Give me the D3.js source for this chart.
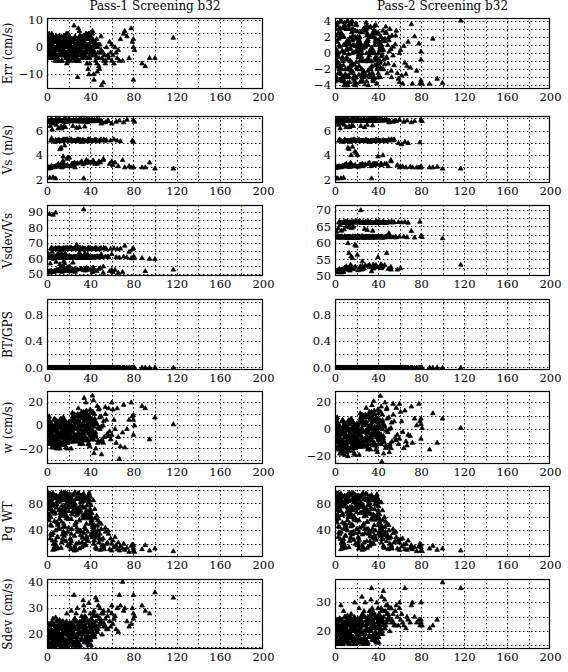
<!DOCTYPE html>
<html><head><meta charset="utf-8">
<script src="https://cdn.jsdelivr.net/npm/d3@7"></script>
<style>body{margin:0;background:#fff}svg text{font-family:"DejaVu Serif",serif;fill:#000}</style>
</head><body><svg id="c" width="568" height="672"></svg>
<script>
// ---------- DATA ----------
const titles = ["Pass-1 Screening b32", "Pass-2 Screening b32"];
const yLabels = ["Err (cm/s)", "Vs (m/s)", "Vsdev/Vs", "BT/GPS", "w (cm/s)", "Pg WT", "Sdev (cm/s)"];
const xTicks = [0, 40, 80, 120, 160, 200];

// shared x values (same ensembles in every panel)
const xs = [
 1,4,8,12,16,19,2,6,10,14,18,3,7,11,15,20,5,9,13,17,
 0.5,3.5,6.5,9.5,12.5,15.5,18.5,1.5,4.5,7.5,10.5,13.5,16.5,19.5,2.5,5.5,8.5,11.5,14.5,17.5,
 1,3,5,7,9,11,13,15,17,19,2,4,6,8,10,12,14,16,18,20,
 0.8,2.8,4.8,6.8,8.8,10.8,12.8,14.8,16.8,18.8,1.6,3.6,5.6,7.6,9.6,11.6,13.6,15.6,17.6,19.6,
 0.3,2.3,4.3,6.3,8.3,10.3,12.3,14.3,16.3,18.3,
 21,25,29,33,37,23,27,31,35,39,22,26,30,34,38,24,28,32,36,40,
 20.5,22.5,24.5,26.5,28.5,30.5,32.5,34.5,36.5,38.5,21.5,23.5,25.5,27.5,29.5,31.5,33.5,35.5,37.5,39.5,
 21,23,25,27,29,31,33,35,37,39,22,24,26,28,30,32,34,36,38,40,
 20.8,23.8,26.8,29.8,32.8,35.8,38.8,21.6,24.6,27.6,30.6,33.6,36.6,39.6,22.4,25.4,28.4,31.4,34.4,37.4,
 40.5,41,42,43,44,45,46,47,48,49,50,51,52,53,54,55,
 41.5,42.5,43.5,44.5,45.5,46.5,47.5,48.5,49.5,50.5,52.5,
 40.2,41.2,42.2,43.2,44.2,45.2,46.2,47.2,48.2,50.2,52.2,54.2,56,
 57,58,59,60,60,61,62,63,64,65,66,67,68,70,71,72,74,76,78,79,80,80,80,81,88,91,95,100,117,56.5,
 0.2,1.3,2.4,3.5,4.6,5.7,6.8,7.9,9.0,10.1,11.2,12.3,13.4,14.5,15.6,16.7,17.8,18.9,20.0,21.1,
 22.2,23.3,24.4,25.5,26.6,27.7,28.8,29.9,31.0,32.1,33.2,34.3,35.4,36.5,37.6,38.7,39.8,40.9,42.0,43.1,
 0.7,1.9,3.1,4.3,5.5,6.7,7.9,9.1,10.3,11.5,12.7,13.9,15.1,16.3,17.5,18.7,19.9,21.1,22.3,23.5,
 24.7,25.9,27.1,28.3,29.5,30.7,31.9,33.1,34.3,35.5,36.7,37.9,39.1,40.3,41.5,42.7,43.9,45.1,0.9,2.1,
 3.3,4.5,5.7,6.9,8.1,9.3,10.5,11.7,12.9,14.1,15.3,16.5,17.7,18.9,20.1,21.3,22.5,23.7,24.9,26.1,
 27.3,28.5,29.7,30.9,32.1,33.3,34.5,35.7,36.9,38.1,39.3,40.5,41.7,42.9,44.1,1.4,5.2,9.6,13.8,17.2
];

// Pass-1
const err1 = [
 2,-3,4,-1,1,-4,-2,3,0,-5,5,-3,2,-1,1,-4,3,0,-2,4,
 -1,3,-4,2,0,-3,5,-2,4,-5,1,-1,3,-3,2,0,-4,4,-2,1,
 0,-2,2,-4,4,-1,1,-3,3,-5,5,0,-2,2,-4,1,-1,3,-3,0,
 3,-1,1,-3,-5,4,-2,0,2,-4,-3,2,4,-1,0,3,-5,1,-2,5,
 -2,1,-4,3,0,-1,2,-3,4,-6,
 1,-2,3,-4,0,2,-1,4,-3,5,-5,1,-2,3,0,-4,2,-1,4,-3,
 0,3,-3,1,-1,4,-4,2,-2,5,-1,2,-5,0,3,-3,1,-2,4,-4,
 -3,2,8,-2,7,0,-4,3,-6,1,2,-1,4,-5,6,-3,0,5,-8,-2,
 4,-2,1,-5,3,-1,-10,0,2,-4,1,-3,5,-6,-1,3,-11,2,0,-4,
 2,-3,5,-1,0,-5,3,-2,-7,1,4,-4,-2,-3,-6,0,
 -1,3,-12,2,-4,-9,1,-8,-2,-14,-5,
 4,-2,6,-10,1,-3,-6,0,-4,-1,-13,-5,-3,
 -4,2,-2,-5,1,-3,-6,0,-2,-4,-1,-5,3,-5,5,6,4,-4,7,2,-12,3,0,-1,-6,-7,-4,-4,3.5,-3,
 -3,1,4,-1,-4,2,0,-2,3,-5,1,-3,4,0,-1,2,-4,3,-2,1,
 2,-4,0,3,-2,-5,1,4,-1,-3,2,0,-4,3,-1,1,-3,2,0,-2,
 4,-2,0,-4,2,-1,3,-3,1,-5,0,2,-2,4,-4,1,-1,3,-3,0,
 -1,3,-3,1,-5,2,0,4,-2,-4,1,-1,3,-3,0,2,-2,1,-4,3,
 -1,5,-3,0,2,-4,1,-2,3,-1,4,-3,0,2,-5,1,-2,3,-4,0,
 1,-3,2,-1,4,-2,0,3,-4,1,-1,2,-3,0,1,-2,2,-1,0,-3
];
const vs1 = [
 6.8,6.85,5.2,6.9,6.75,5.25,3.0,6.8,3.1,5.15,6.85,6.4,3.05,6.8,5.3,6.9,6.8,3.15,4.6,6.3,
 3.0,6.9,6.75,5.2,3.2,6.85,3.7,2.9,6.8,5.1,3.3,6.2,6.9,6.8,2.15,6.75,6.5,5.25,3.4,6.85,
 6.85,2.95,6.8,3.05,5.2,6.9,6.35,3.9,6.8,5.3,6.75,3.1,6.6,2.1,6.8,4.5,3.0,6.85,6.8,5.2,
 2.95,6.8,6.1,6.85,3.1,5.25,6.8,3.55,6.9,6.75,6.7,3.0,2.2,6.8,5.15,6.85,3.2,6.4,5.3,3.8,
 6.8,3.0,5.4,6.85,3.1,6.2,5.2,6.8,4.8,6.9,
 6.8,5.2,6.85,5.25,6.8,3.3,6.9,5.15,6.75,3.4,5.3,6.8,6.3,6.85,5.2,6.4,6.8,3.5,6.9,6.8,
 5.2,6.85,3.2,6.8,5.25,6.9,5.1,6.8,3.6,6.85,3.1,5.2,6.8,6.25,5.3,6.8,6.85,5.2,6.7,5.25,
 6.9,6.8,5.2,3.3,6.85,5.25,6.8,6.35,3.45,6.9,6.8,5.2,3.0,6.8,5.15,6.9,2.1,6.8,5.3,3.4,
 3.8,6.8,5.2,6.9,6.8,3.35,5.25,6.85,6.8,5.2,6.75,3.25,6.9,5.2,6.8,3.4,5.3,6.85,6.8,5.15,
 6.8,5.2,6.85,3.4,6.8,5.25,6.9,5.2,3.5,6.8,5.3,6.75,3.6,5.2,6.7,5.25,
 6.85,5.2,6.8,3.3,5.25,6.9,6.8,5.2,3.4,6.8,5.3,
 5.2,6.8,3.5,6.85,5.2,6.8,3.3,5.15,6.9,6.6,3.7,5.2,6.8,
 6.8,3.3,5.2,3.5,6.6,3.2,5.3,3.4,6.75,5.2,3.1,6.85,5.15,3.6,6.7,3.0,6.9,3.1,3.0,5.2,6.9,5.1,3.0,6.75,3.0,3.0,3.4,2.9,2.9,6.85,
 6.8,3.0,6.85,5.2,6.9,3.05,6.8,5.25,6.75,3.1,6.85,5.2,6.8,3.15,6.9,5.3,6.8,3.2,6.85,5.2,
 6.8,5.2,6.9,3.3,6.85,5.25,6.8,6.9,5.15,3.4,6.8,5.2,6.85,3.5,6.9,5.3,6.8,5.2,6.85,3.5,
 2.95,6.85,3.0,6.8,5.2,3.05,6.9,6.8,5.25,3.1,6.85,6.8,5.2,3.2,6.8,5.3,6.9,6.85,5.2,3.3,
 6.8,5.2,6.9,3.35,6.85,5.25,6.8,5.2,6.9,3.45,6.8,5.15,6.85,6.8,5.2,3.55,6.9,5.25,3.0,6.8,
 6.85,5.2,3.0,6.8,3.1,6.9,5.2,6.8,3.05,6.85,5.25,6.8,3.15,5.2,6.9,6.8,5.3,3.25,6.85,5.2,
 6.8,5.2,6.85,3.4,6.9,5.25,6.8,5.2,6.85,3.5,6.8,5.2,6.9,6.8,5.25,3.0,3.05,6.8,5.2,3.1
];
const vsdev1 = [
 61,60.5,66.5,61.5,60.8,66.8,52,61,52.5,66.2,60.6,57,51.8,61.2,67,61.4,60.9,52.8,55,63.5,
 51.5,61.3,60.7,66.6,52.6,61.1,54,51.2,60.9,66.3,53,64,61.5,60.6,89,61,58,66.9,53.4,61.2,
 61.1,51.4,60.8,52.2,66.4,61.6,63.2,55.5,61,67.1,60.7,52.4,60,90,61.3,56.5,51.6,60.9,61.4,66.7,
 51.3,61,64.5,60.6,52.1,66.8,61.2,53.6,61.5,60.8,63,51.9,88.5,61.1,66.2,60.7,52.9,58.5,67,54.5,
 61,51.7,67.3,61.2,52.3,63.8,66.5,60.8,57,61.4,
 61,66.5,60.7,66.8,61.2,52.5,61.4,66.2,60.8,53,67,61.1,64,60.6,66.6,57.5,61.3,53.5,61.5,60.9,
 66.4,61.1,52.2,60.8,66.9,61.5,66.1,61,54,60.6,51.8,66.5,61.3,69,67,60.9,61.2,66.7,63,66.3,
 61.4,60.8,66.6,52.8,61.1,66.9,61,63.5,53.2,61.5,60.7,66.4,51.6,61.2,66.2,61.6,92,60.9,67.1,53,
 55,61,66.5,61.4,60.8,52.4,66.8,61.1,60.9,66.6,61.3,52.6,61.5,66.3,61,53.3,67,60.7,61.2,66.2,
 61,66.5,60.7,53,61.2,66.8,61.4,66.3,53.5,60.9,67,61.1,51,66.6,61.5,66.2,
 60.8,66.4,61.3,52.4,66.9,61.6,61,66.5,54,61.2,67.2,
 66.6,61.1,51.5,60.7,66.3,61.3,52,66.1,61.4,63,55,66.8,61.5,
 61,52,66.5,53,63,51.5,66.8,52.8,61.2,66.4,51,60.8,66.6,51.5,61.4,68.5,61,64.5,60.5,66.3,61.2,66.8,60.4,61,60.5,52,60,59.8,53,61.5,
 61,51.5,60.7,66.6,61.4,51.8,61,66.9,60.8,52.2,61.3,66.4,60.9,52.5,61.5,67,61.1,52.8,60.6,66.5,
 61.2,66.7,61.5,53,60.8,66.9,61,61.4,66.2,53.5,60.9,66.6,61.2,54,61.5,67.1,60.7,66.4,61.3,54,
 51.2,60.8,51.6,61.1,66.5,51.9,61.5,60.9,66.8,52.3,61.2,60.7,66.4,52.7,61,67,61.6,60.8,66.6,53,
 61.1,66.5,61.4,53.2,60.8,66.9,61.2,66.6,61.5,53.6,60.9,66.2,61.3,61,66.7,54.2,61.5,66.9,51.4,61,
 60.8,66.5,51.5,61.2,52,61.5,66.6,60.9,51.8,61.3,66.8,61,52.4,66.4,61.5,60.7,67,52.9,61.2,66.5,
 61,66.6,60.8,53.3,61.5,66.9,61.1,66.4,60.9,53.7,61.3,66.5,61.5,60.8,66.8,51.3,51.7,61,66.5,52.1
];
const bt1 = [
 0,0,0,0,0,0,0,0,0,0,0,0,0,0,0,0,0,0,0,0, 0,0,0,0,0,0,0,0,0,0,0,0,0,0,0,0,0,0,0,0,
 0,0,0,0,0,0,0,0,0,0,0,0,0,0,0,0,0,0,0,0, 0,0,0,0,0,0,0,0,0,0,0,0,0,0,0,0,0,0,0,0,
 0,0,0,0,0,0,0,0,0,0,
 0,0,0,0,0,0,0,0,0,0,0,0,0,0,0,0,0,0,0,0, 0,0,0,0,0,0,0,0,0,0,0,0,0,0,0,0,0,0,0,0,
 0,0,0,0,0,0,0,0,0,0,0,0,0,0,0,0,0,0,0,0, 0,0,0,0,0,0,0,0,0,0,0,0,0,0,0,0,0,0,0,0,
 0,0,0,0,0,0,0,0,0,0,0,0,0,0,0,0, 0,0,0,0,0,0,0,0,0,0,0, 0,0,0,0,0,0,0,0,0,0,0,0,0,
 0,0,0,0,0,0,0,0,0,0,0,0,0,0,0,0,0,0,0,0,0,0,0,0,0,0,0,0,0,0,
 0,0,0,0,0,0,0,0,0,0,0,0,0,0,0,0,0,0,0,0, 0,0,0,0,0,0,0,0,0,0,0,0,0,0,0,0,0,0,0,0,
 0,0,0,0,0,0,0,0,0,0,0,0,0,0,0,0,0,0,0,0, 0,0,0,0,0,0,0,0,0,0,0,0,0,0,0,0,0,0,0,0,
 0,0,0,0,0,0,0,0,0,0,0,0,0,0,0,0,0,0,0,0, 0,0,0,0,0,0,0,0,0,0,0,0,0,0,0,0,0,0,0,0
];
const w1 = [
 -5,2,-12,5,-8,-15,0,-3,-18,3,-10,-1,6,-7,-14,1,-4,-20,-9,4,
 -2,-11,5,-16,-6,0,-13,7,-19,-3,2,-8,-15,-1,4,-10,-17,1,-5,-12,
 3,-9,-4,-14,0,-18,6,-7,-2,-11,8,-16,-5,2,-13,-20,-1,5,-8,-3,
 -6,1,-15,-10,4,-2,-17,-7,0,-12,7,-4,-19,-9,3,-14,-1,-6,2,-11,
 -8,4,-13,-3,-18,0,-7,5,-10,-15,
 0,-8,5,-12,10,-3,2,-15,8,-6,-10,3,-1,12,-5,7,-13,1,-4,14,
 -7,4,-11,9,-2,-16,6,-9,13,0,-4,11,-14,3,-6,8,-1,-12,5,-18,
 2,-5,10,-9,15,-3,7,-13,1,-7,-11,4,-2,9,-8,12,-4,20,-16,6,
 -3,8,-10,3,-6,11,-1,-14,5,-8,-12,2,-5,7,-20,-3,10,-9,24,0,
 -12,5,-5,22,10,-8,2,-15,14,-3,8,-12,0,-10,16,5,
 -6,12,-24,3,-10,17,-2,7,-14,-25,4,
 11,-4,26,-9,6,-20,1,-13,15,-1,-15,10,-7,
 15,-5,-12,20,-8,14,5,-3,-15,15,-10,-29,-18,-6,18,-19,-3,5,20,8,-8,5,9,0,17,15,-12,7,1,-9,
 -10,-3,-16,2,-7,-12,-1,-19,4,-6,-14,0,-9,-4,6,-17,-2,-11,3,-8,
 -5,5,-12,-1,8,-9,2,-14,-3,10,-7,1,-11,6,-4,-16,4,-8,0,-12,
 -6,-14,1,-9,-18,-3,5,-11,-7,0,-15,-2,7,-13,-5,-20,-8,3,-10,-1,
 -6,6,-13,-2,9,-9,1,-16,4,-5,-11,7,-3,-8,2,-12,5,-6,-15,-4,
 -8,-13,-2,-17,1,-6,-10,3,-15,-4,-9,-1,-19,-7,2,-12,-3,-14,0,-9,
 3,-10,-4,8,-12,0,-7,5,-2,-13,1,-9,6,-5,-1,-8,-16,-4,-11,-7
];
const pg1 = [
 85,72,40,93,65,18,55,88,30,77,62,95,12,70,45,82,25,90,68,35,
 92,60,78,15,87,50,74,96,33,66,84,22,71,58,89,11,80,42,94,63,
 76,28,91,67,52,83,14,73,97,38,64,86,20,79,48,93,69,32,88,57,
 95,61,81,16,74,44,90,26,68,85,59,77,36,92,13,71,53,87,24,82,
 66,94,47,78,19,89,62,34,75,91,
 75,15,88,30,62,92,20,70,45,85,12,80,55,95,25,68,38,90,18,72,
 94,35,78,14,65,87,22,60,50,82,28,93,10,74,40,86,17,66,58,91,
 83,42,69,11,89,33,76,19,64,96,27,81,48,71,13,92,36,61,24,79,
 16,84,52,73,29,90,63,21,77,44,67,93,31,85,57,12,70,39,88,26,
 78,55,30,85,48,15,62,40,22,35,50,18,28,12,44,20,
 66,38,25,58,14,47,32,52,11,26,17,
 90,60,45,20,72,35,12,55,28,42,15,38,22,
 35,12,28,20,10,25,15,30,18,12,22,10,16,13,20,11,14,8,17,19,10,14,18,8,12,18,10,13,9,40,
 62,80,95,35,70,88,20,76,92,50,84,66,97,28,73,90,58,81,44,86,
 93,64,79,32,87,69,96,55,82,15,90,74,60,86,38,94,67,52,30,45,
 74,90,48,83,96,65,25,79,88,57,93,70,38,85,61,95,76,17,89,68,
 81,97,63,88,22,76,92,58,84,42,70,89,65,33,55,48,25,38,58,78,
 86,67,93,54,79,30,90,72,85,62,96,46,80,91,69,87,24,75,94,50,
 88,71,95,40,82,63,90,27,77,86,60,50,35,42,30,72,90,84,66,95
];
const sdev1 = [
 20,17,23,18,21,16,24,19,22,15.5,25,18.5,20.5,17.5,23.5,19.5,21.5,16.5,24.5,22.5,
 18,22,16,25,19,21,17,23,20,15.5,24,18.5,22.5,16.5,20.5,26,19.5,23.5,17.5,21.5,
 21,16,24,19,17,22,20,25,18,23,15.5,21.5,19.5,26.5,17.5,22.5,20.5,16.5,24.5,18.5,
 23,19,17,21,25,16,22,18,20,24,19.5,15.5,23.5,17.5,21.5,25.5,18.5,22.5,16.5,20.5,
 17,22,19,24,16,21,18,23,20,28,
 19,23,17,25,21,16,28,20,24,18,22,26,15.5,31,19.5,23.5,17.5,27,21.5,24.5,
 20,17,24,19,22,25,18,29,21,16,23,19.5,26,17.5,22.5,20.5,33,18.5,24.5,21.5,
 22,18,35,20,16,24,21,27,17,23,19,25,15.5,30,20.5,18.5,22.5,26.5,16.5,28,
 18,21,25,16,23,19,32,20,22,17,24,26,18.5,21.5,29,16.5,23.5,20.5,25.5,19.5,
 22,26,19,28,24,34,21,27,23,30,25,20,28,24,26,22,
 20,25,29,23,27,21,31,24,26,28,23,
 18,24,21,27,19,25,33,22,26,24,29,23,27,
 29,25,23,28,31,24,26,27,22,30,21,35,31,40,29,30,25,23,24,30,35,26,28,27,31,29,28,36,34,22,
 22,16,19,24,17,21,15.5,23,18,20,25,16.5,22.5,19,17.5,24,21,15.5,23.5,18.5,
 20,24,17,22,19,25,16,21,23,18,20.5,26,17,22,24.5,19,21,16,23,20,
 17,23,20,15.5,24,18,22,16.5,21,25,19,17.5,23,20.5,15.5,22,18.5,24.5,16,21.5,
 23,17,25,19,21,16,24,20,22,18,26,17.5,21.5,23.5,19,24,20,22,18,15.5,
 21,24.5,16,19,23,17,22,20,15.5,25,18,21,23.5,16.5,20,24,17.5,22,19.5,25,
 18,22,16,24,20,26,17,23,19,21,25,18,22,20,24,16.5,21,19,23,17
];

// Pass-2
const err2 = [
 3,-2,1,-4,0,2,-1,4,-3,0.5,-3.5,2.5,-0.5,1.5,-2.5,3.5,-1.5,0,-3,2,
 -1,3,-3,1,-2,4,-4,0,2,-1,3,-2,1,-3,0,2,-4,4,-1,1,
 0.5,-2.5,2.5,-3.5,3.5,-0.5,1.5,-1.5,3,-3,0,1,-2,2,-4,4,-1,3,-2.8,0.2,
 2.2,-1.2,0.8,-3.2,3.8,-0.8,1.2,-2.2,2.8,-3.8,-0.2,1.8,-1.8,3.2,-2.6,0.6,-3.6,2.6,-1.4,3.6,
 -0.6,1.4,-2.4,2.4,-3.4,0.4,3.4,-1.6,1.6,-3.9,
 1,-2,3,-3,0,2,-1,-4,-2.5,1.5,0,-3.5,2.5,-1,3.5,-0.5,1,-2,2,-3,
 0.5,2,-2,3,-1,1.5,-3,0,2.5,-1.5,-0.5,1,-2.5,3,0,-1,2,-3.5,1.5,-2,
 2,-1,0,-3,3.8,1,-2,0.5,-1.5,2.5,-0.2,1.2,-2.8,3.2,-0.8,0.2,2.2,-3.2,1.8,-1.2,
 -2,1,3,-1,0,2.4,-3.8,1.4,-0.4,2.8,-2.2,0.6,3.4,-1.8,1.6,-3,0.8,2,-2.6,-0.6,
 0,1,-1,2,0.5,-2,1.5,2.5,-0.5,1,2,3,0.5,2.2,-0.3,-1.5,
 1.2,-1.8,0.3,2.8,-0.8,1.8,2.6,-2.5,-1.3,0.2,-3,
 -2.5,-1,-3,1,-2,0.4,-1.4,3.3,-0.6,1.6,-2.2,0.8,1.1,
 2.8,-2.5,-3.2,0,-3.6,0.4,-2.8,-3.8,0.9,-1.2,-2.6,-1.6,1.4,-1.8,3.6,-3.8,2.1,-2.2,1.2,-3.8,-0.8,-3.4,0.2,-3.8,-3.8,1.8,-3.2,-3.7,4.05,2.2,
 -3.5,1.5,3.8,-0.5,-2.5,2.5,0.2,-1.5,3.2,-3.8,1.2,-2.8,3.6,0.6,-1.2,2.2,-3.2,2.8,-1.8,0.8,
 1.8,-3.6,0.4,2.6,-2.2,-3.9,1.4,3.4,-0.6,-2.6,2.1,0.3,-3.3,2.9,-0.9,1.6,-1.9,2.4,0.7,-0.4,
 3.7,-1.7,0.1,-3.4,2.3,-0.7,3.1,-2.9,1.3,-3.7,-0.1,1.9,-2.1,3.9,-3.1,0.9,-1.1,2.7,-2.7,0.5,
 -0.8,2.9,-2.4,1.1,-3.5,1.7,-0.3,3.3,-1.6,-3.0,1.0,-0.5,2.5,-1.4,0.4,2.0,-0.2,1.5,-3.3,3.5,
 -1.3,3.9,-2.6,0.3,2.1,-3.6,1.2,-1.9,3.0,-0.9,3.6,-2.3,0.1,1.8,-3.8,1.0,-1.6,2.6,-3.4,0.6,
 0.8,-2.8,2.2,-0.7,3.2,-1.8,0.2,2.7,-3.1,1.3,-0.6,1.6,-1.2,0.9,1.7,-3.0,3.1,-2.0,1.1,-1.4
];
const vs2 = [
 6.85,6.9,5.2,6.95,6.8,5.2,3.0,6.85,3.1,5.1,6.9,6.5,3.1,6.85,5.25,6.9,6.85,3.2,4.5,6.4,
 3.0,6.95,6.8,5.2,3.2,6.9,4.3,2.1,6.85,5.1,3.3,6.3,6.9,6.85,2.1,6.8,6.5,5.2,3.4,6.9,
 6.9,3.0,6.85,3.1,5.3,6.95,6.4,4.0,6.85,5.2,6.8,3.1,6.6,2.15,6.85,4.6,3.05,6.9,6.85,5.2,
 3.0,6.85,6.2,6.9,3.1,5.2,6.85,3.3,6.95,6.8,6.7,3.05,2.1,6.85,5.2,6.9,3.2,6.45,5.3,4.2,
 6.85,3.05,5.3,6.9,3.1,6.3,5.2,6.85,4.7,6.9,
 6.85,5.2,6.9,5.2,6.85,3.2,6.9,5.15,6.8,3.3,5.25,6.85,6.5,6.9,5.2,6.4,6.85,3.4,6.9,6.85,
 5.2,6.9,3.1,6.85,5.2,6.9,5.1,6.85,3.2,6.9,3.05,5.2,6.85,6.3,5.25,6.85,6.9,5.2,6.8,5.2,
 6.95,6.85,5.2,3.2,6.9,5.2,6.85,6.45,3.3,6.9,6.85,5.2,3.1,6.85,5.15,6.9,2.1,6.85,5.3,3.9,
 4.0,6.85,5.2,6.9,6.85,3.2,5.25,6.9,6.85,5.2,6.8,3.1,6.95,5.2,6.85,3.3,5.25,6.9,6.85,5.2,
 6.85,5.2,6.9,3.2,6.85,5.25,6.9,5.2,3.3,6.85,5.3,6.8,3.6,5.2,6.75,5.3,
 6.9,5.2,6.85,4.0,5.2,6.9,6.85,5.2,3.1,6.85,5.3,
 5.2,6.85,3.2,6.9,5.2,6.85,3.3,5.15,6.9,6.7,3.5,5.25,6.85,
 6.8,3.2,5.0,3.0,6.9,3.1,4.9,3.05,6.75,5.1,3.0,6.85,5.0,3.05,6.7,3.0,6.8,3.0,3.0,5.05,6.9,3.1,3.0,6.8,3.0,3.0,3.05,2.9,2.9,6.85,
 6.85,3.0,6.9,5.2,6.95,3.05,6.85,5.2,6.8,3.1,6.9,5.2,6.85,3.1,6.95,5.25,6.85,3.2,6.9,5.2,
 6.85,5.2,6.95,3.2,6.9,5.2,6.85,6.95,5.15,3.3,6.85,5.2,6.9,3.2,6.95,5.25,6.85,5.2,6.9,3.3,
 3.0,6.9,3.05,6.85,5.2,3.1,6.95,6.85,5.2,3.1,6.9,6.85,5.2,3.15,6.85,5.25,6.95,6.9,5.2,3.2,
 6.85,5.2,6.95,3.25,6.9,5.2,6.85,5.2,6.95,3.3,6.85,5.15,6.9,6.85,5.2,3.3,6.95,5.2,3.0,6.85,
 6.9,5.2,3.0,6.85,3.1,6.95,5.2,6.85,3.05,6.9,5.2,6.85,3.1,5.2,6.95,6.85,5.25,3.2,6.9,5.2,
 6.85,5.2,6.9,3.3,6.95,5.2,6.85,5.2,6.9,3.3,6.85,5.2,6.95,6.85,5.2,3.0,3.05,6.85,5.2,3.1
];
const vsdev2 = [
 61.8,62,66.3,61.6,61.9,66.5,51.8,62.1,52.3,66.2,61.7,64.5,52,61.9,66.4,62,61.8,52.6,57,65,
 51.6,61.7,62,66.3,52.5,61.8,59.5,51.2,61.9,66.1,53,64.8,62.1,61.7,51.4,61.9,64.2,66.5,53.5,61.8,
 61.9,51.5,62,52.1,66.4,61.6,65.2,56,61.8,66.3,62.1,52.2,63.8,51.3,61.9,60,51.7,61.7,62,66.5,
 51.4,61.8,65.5,62,52.2,66.2,61.9,52.8,61.7,62.1,63.5,51.8,51.1,61.8,66.4,62,52.4,64.6,66.3,59.2,
 61.9,51.6,66.4,62,52.1,65,66.3,61.8,55.5,61.7,
 61.8,66.3,62,66.5,61.9,52.4,61.7,66.2,62.1,52.8,66.4,61.8,64,62,66.3,70,61.9,53.2,61.7,62,
 66.4,61.9,52,61.8,66.3,62,66.1,61.7,52.6,61.9,51.8,66.5,62.1,64.3,66.4,61.8,61.9,66.2,62,66.3,
 61.7,61.9,66.3,52.5,62,66.4,61.8,63.8,53,61.9,62.1,66.2,52.2,61.8,66.3,62,51.5,61.9,66.5,55.8,
 56.5,61.8,66.3,62,61.9,52.3,66.4,61.7,62.1,66.2,61.8,52.7,61.9,66.3,62,54.5,66.5,61.8,61.9,66.2,
 61.8,66.3,62,52.4,61.9,66.4,61.7,66.2,57,61.9,66.5,62,52.8,66.3,61.8,66.4,
 62,66.3,61.8,53,66.4,61.9,62.1,66.2,52.2,61.8,66.5,
 66.3,61.9,52.6,62,66.4,61.8,53.4,66.2,61.9,63,52,66.3,61.8,
 61.8,52,66.4,48,62,52.5,66.3,48,62,66.4,48,61.8,66.2,48,63.7,48,61.7,48,48,66.5,62.2,48,48,61.9,48,48,48,61.5,53.5,61.9,
 61.8,51.6,62,66.3,61.7,51.9,61.9,66.4,62.1,52.3,61.8,66.2,61.9,52.6,61.7,66.5,62,52.9,61.8,66.3,
 61.9,66.4,61.7,53.1,62,66.2,61.8,61.7,66.5,53.4,61.9,66.3,62,52.8,61.7,66.4,61.8,66.2,62,53.2,
 51.3,61.9,51.7,61.8,66.3,52,61.7,61.9,66.4,52.4,62,61.8,66.2,52.7,61.9,66.5,61.7,62,66.3,53,
 61.8,66.4,61.7,53.3,62,66.2,61.9,66.5,61.7,53.5,61.8,66.3,62,61.9,66.4,53.6,61.7,66.2,51.5,61.8,
 62,66.3,51.6,61.8,52.1,61.7,66.4,61.9,51.9,62,66.2,61.8,52.5,66.3,61.7,61.9,66.5,52.8,62,66.3,
 61.8,66.4,62,53.2,61.7,66.3,61.9,66.2,62,53.4,61.8,66.5,61.7,61.9,66.3,51.4,51.8,61.8,66.4,52.2
];
const bt2 = [
 0,0,0,0,0,0,0,0,0,0,0,0,0,0,0,0,0,0,0,0, 0,0,0,0,0,0,0,0,0,0,0,0,0,0,0,0,0,0,0,0,
 0,0,0,0,0,0,0,0,0,0,0,0,0,0,0,0,0,0,0,0, 0,0,0,0,0,0,0,0,0,0,0,0,0,0,0,0,0,0,0,0,
 0,0,0,0,0,0,0,0,0,0,
 0,0,0,0,0,0,0,0,0,0,0,0,0,0,0,0,0,0,0,0, 0,0,0,0,0,0,0,0,0,0,0,0,0,0,0,0,0,0,0,0,
 0,0,0,0,0,0,0,0,0,0,0,0,0,0,0,0,0,0,0,0, 0,0,0,0,0,0,0,0,0,0,0,0,0,0,0,0,0,0,0,0,
 0,0,0,0,0,0,0,0,0,0,0,0,0,0,0,0, 0,0,0,0,0,0,0,0,0,0,0, 0,0,0,0,0,0,0,0,0,0,0,0,0,
 0,0,0,0,0,0,0,0,0,0,0,0,0,0,0,0,0,0,0,0,0,0,0,0,0,0,0,0,0,0,
 0,0,0,0,0,0,0,0,0,0,0,0,0,0,0,0,0,0,0,0, 0,0,0,0,0,0,0,0,0,0,0,0,0,0,0,0,0,0,0,0,
 0,0,0,0,0,0,0,0,0,0,0,0,0,0,0,0,0,0,0,0, 0,0,0,0,0,0,0,0,0,0,0,0,0,0,0,0,0,0,0,0,
 0,0,0,0,0,0,0,0,0,0,0,0,0,0,0,0,0,0,0,0, 0,0,0,0,0,0,0,0,0,0,0,0,0,0,0,0,0,0,0,0
];
const w2 = [
 -4,3,-11,6,-7,-14,1,-2,-17,4,-9,0,7,-6,-13,2,-3,-19,-8,5,
 -1,-10,6,-15,-5,1,-12,8,-18,-2,3,-7,-14,0,5,-9,-16,2,-4,-11,
 4,-8,-3,-13,1,-17,7,-6,-1,-10,9,-15,-4,3,-12,-20,0,6,-7,-2,
 -5,2,-14,-9,5,-1,-16,-6,1,-11,8,-3,-18,-8,4,-13,0,-5,3,-10,
 -7,5,-12,-2,-17,1,-6,6,-9,-14,
 1,-7,6,-11,11,-2,3,-14,9,-5,-9,4,0,13,-4,8,-12,2,-3,15,
 -6,5,-10,10,-1,-15,7,-8,14,1,-3,12,-13,4,-5,9,0,-11,6,-17,
 3,-4,11,-8,16,-2,8,-12,2,-6,-10,5,-1,10,-7,13,-3,21,-15,7,
 -2,9,-9,4,-5,12,0,-13,6,-7,-11,3,-4,8,-19,-2,11,-8,18,1,
 -11,6,-4,17,11,-7,3,-14,15,-2,9,-11,1,-9,19,6,
 -5,13,-24,4,-9,20,-1,8,-13,-17,5,
 12,-3,25,-8,7,-18,2,-12,16,0,-14,11,-6,
 16,-4,-11,19,-7,13,6,-2,-14,14,-9,-12,-4,-5,17,-10,8,3,19,6,-7,4,8,1,-15,12,-10,8,1,-8,
 -9,-2,-15,3,-6,-11,0,-18,5,-5,-13,1,-8,-3,7,-16,-1,-10,4,-7,
 -4,6,-11,0,9,-8,3,-13,-2,11,-6,2,-10,7,-3,-15,5,-7,1,-11,
 -5,-13,2,-8,-17,-2,6,-10,-6,1,-14,-1,8,-12,-4,-19,-7,4,-9,0,
 -5,7,-12,-1,10,-8,2,-15,5,-4,-10,8,-2,-7,3,-11,6,-5,-14,-3,
 -7,-12,-1,-16,2,-5,-9,4,-14,-3,-8,0,-18,-6,3,-11,-2,-13,1,-8,
 4,-9,-3,9,-11,1,-6,6,-1,-12,2,-8,7,-4,0,-7,-15,-3,-10,-6
];
const pg2 = [
 88,70,42,94,62,20,52,86,32,75,60,96,13,68,46,80,27,92,66,38,
 90,58,80,16,85,48,72,95,35,64,82,24,73,56,91,12,78,40,93,61,
 74,30,89,65,50,84,15,71,96,36,62,87,22,77,46,94,67,34,86,55,
 93,63,79,18,76,42,88,28,70,83,57,75,38,90,14,69,51,85,26,80,
 64,92,45,76,21,87,60,36,73,89,
 73,17,86,32,60,90,22,68,43,83,13,78,53,93,27,66,36,88,20,70,
 92,37,76,15,63,85,24,58,48,80,30,91,11,72,42,84,19,64,56,89,
 81,44,67,12,87,35,74,21,62,94,29,79,46,69,14,90,38,59,26,77,
 18,82,50,71,31,88,61,23,75,42,65,91,33,83,55,13,68,41,86,28,
 76,52,32,82,46,17,60,38,24,33,48,20,30,13,42,22,
 64,36,27,56,15,45,34,50,12,28,18,
 86,58,43,22,70,33,14,53,30,40,16,36,24,
 30,13,26,22,11,27,16,28,19,12,20,11,25,14,18,12,15,9,16,20,10,15,19,9,13,17,11,13,10,38,
 60,82,94,37,72,86,22,78,91,48,85,64,96,30,75,88,56,83,42,87,
 92,66,80,34,86,67,95,53,83,17,89,72,62,85,40,93,65,50,32,43,
 76,89,46,84,95,63,27,80,87,55,92,72,36,86,59,94,78,19,88,66,
 79,96,61,87,24,78,91,56,85,40,72,88,63,35,53,46,27,36,56,80,
 85,69,92,52,81,32,89,74,84,60,95,48,82,90,67,86,26,77,93,48,
 87,73,94,42,80,65,89,29,79,85,58,48,37,40,28,70,92,82,64,94
];
const sdev2 = [
 19,17,22,18,21,16,24,20,23,15.5,25,18.5,20.5,17.5,23.5,19.5,21.5,16.5,24.5,22,
 18,22,16,25,19,21,17,23,20,15.5,24,18.5,22.5,16.5,20.5,29,19.5,23.5,17.5,21.5,
 21,16,24,19,17,22,20,26,18,23,15.5,21.5,19.5,27,17.5,22.5,20.5,16.5,24.5,18.5,
 23,19,17,21,25,16,22,18,20,24,19.5,15.5,23.5,17.5,21.5,25.5,18.5,22.5,16.5,20.5,
 17,22,19,24,16,21,18,23,20,30,
 19,23,17,25,21,16,27,20,24,18,22,26,15.5,35,19.5,23.5,17.5,27,21.5,24.5,
 20,17,24,19,22,25,18,28,21,16,23,19.5,26,17.5,22.5,20.5,31,18.5,24.5,21.5,
 22,18,32,20,16,24,21,27,17,23,19,25,15.5,30,20.5,18.5,22.5,26.5,16.5,28,
 18,21,25,16,23,19,30,20,22,17,24,26,18.5,21.5,28,16.5,23.5,20.5,25.5,19.5,
 22,26,19,28,24,34,21,27,23,29,25,20,28,24,26,22,
 20,25,32,23,27,21,29,24,26,28,23,
 18,24,21,27,19,25,31,22,26,24,28,23,27,
 29,25,22,28,30,24,26,23,22,35,21,25,24,23,29,30,25,23,24,22,30,24,23,22,21,22,24,37,35,22,
 21,16,19,24,17,22,15.5,23,18,20,25,16.5,22,19,17.5,24,21,15.5,23.5,18.5,
 20,24,17,22,19,25,16,21,23,18,20.5,26,17,22,24.5,19,21,16,23,20,
 17,23,20,15.5,24,18,22,16.5,21,25,19,17.5,23,20.5,15.5,22,18.5,24.5,16,21.5,
 23,17,25,19,21,16,24,20,22,18,26,17.5,21.5,23.5,19,24,20,22,18,15.5,
 21,24.5,16,19,23,17,22,20,15.5,25,18,21,23.5,16.5,20,24,17.5,22,19.5,25,
 18,22,16,24,20,26,17,23,19,21,25,18,22,20,24,16.5,21,19,23,17
];

// y tick labels and grid values per panel
const yTicks1 = [[-10,0,10],[2,4,6],[50,60,70,80,90],[0,0.4,0.8],[-20,0,20],[40,80],[20,30,40]];
const yTicks2 = [[-4,-2,0,2,4],[2,4,6],[50,55,60,65,70],[0,0.4,0.8],[-20,0,20],[40,80],[20,30]];
const yGrid1 = [[-10,-5,0,5,10],[2,3,4,5,6,7],[50,55,60,65,70,75,80,85,90],[0,0.2,0.4,0.6,0.8,1.0],[-30,-20,-10,0,10,20],[20,40,60,80,100],[15,20,25,30,35,40]];
const yGrid2 = [[-4,-3,-2,-1,0,1,2,3,4],[2,3,4,5,6,7],[52.5,55,57.5,60,62.5,65,67.5,70],[0,0.2,0.4,0.6,0.8,1.0],[-20,-10,0,10,20],[20,40,60,80,100],[15,20,25,30,35]];
const yDom1 = [[-15.5,10.7],[1.7,7.2],[48.7,94.7],[-0.04,1.045],[-33.6,29.8],[0,106],[14.4,41]];
const yDom2 = [[-4.5,4.35],[1.7,7.2],[50,71.5],[-0.04,1.045],[-26,28.4],[0,106],[13.7,38.1]];

const ys1 = [err1, vs1, vsdev1, bt1, w1, pg1, sdev1];
const ys2 = [err2, vs2, vsdev2, bt2, w2, pg2, sdev2];

// ---------- LAYOUT ----------
const svg = d3.select("#c");
svg.append("rect").attr("width",568).attr("height",672).attr("fill","#fff");
const cols = [{x0:47,x1:263},{x0:335,x1:550}];
const rowsY = [[18,89],[116,183],[205,276],[299,370],[391,464],[486,557],[579,649]];

cols.forEach((c,ci)=>{
  svg.append("text").attr("x",(c.x0+c.x1)/2).attr("y",10).attr("text-anchor","middle")
     .style("font-size","12px").text(titles[ci]);
});

const tri = (x,y)=>`M${x},${y-2.3}L${x+2.3},${y+1.7}L${x-2.3},${y+1.7}Z`;

rowsY.forEach((r,ri)=>{
  cols.forEach((c,ci)=>{
    const dom = ci===0?yDom1[ri]:yDom2[ri];
    const yv = ci===0?ys1[ri]:ys2[ri];
    const ticks = ci===0?yTicks1[ri]:yTicks2[ri];
    const grid = ci===0?yGrid1[ri]:yGrid2[ri];
    const x = d3.scaleLinear().domain([0,200]).range([c.x0,c.x1]);
    const y = d3.scaleLinear().domain(dom).range([r[1],r[0]]);
    const g = svg.append("g");
    const clipId = `clip${ri}_${ci}`;
    g.append("clipPath").attr("id",clipId).append("rect")
      .attr("x",c.x0).attr("y",r[0]).attr("width",c.x1-c.x0).attr("height",r[1]-r[0]);
    // grid
    const vg = d3.range(20,200,20);
    g.selectAll("line.vg").data(vg).join("line")
      .attr("x1",d=>Math.round(x(d))+0.5).attr("x2",d=>Math.round(x(d))+0.5).attr("y1",r[0]).attr("y2",r[1])
      .attr("stroke","#000").attr("stroke-width",1).attr("stroke-dasharray","1.5,2.5");
    g.selectAll("line.hg").data(grid.filter(v=>y(v)>r[0]+1.5 && y(v)<r[1]-1.5)).join("line")
      .attr("x1",c.x0).attr("x2",c.x1).attr("y1",d=>Math.round(y(d))+0.5).attr("y2",d=>Math.round(y(d))+0.5)
      .attr("stroke","#000").attr("stroke-width",1).attr("stroke-dasharray","1.5,2.5");
    // points
    const pts = xs.map((xv,i)=>[xv,yv[i]]).filter(d=>d[1]!=null && d[1]>=dom[0] && d[1]<=dom[1]);
    g.append("g").attr("clip-path",`url(#${clipId})`).selectAll("path").data(pts).join("path")
      .attr("d",d=>tri(x(d[0]),y(d[1]))).attr("fill","#000").attr("stroke","#000").attr("stroke-width",0.8);
    // frame
    g.append("rect").attr("x",c.x0+0.5).attr("y",r[0]+0.5).attr("width",c.x1-c.x0-1).attr("height",r[1]-r[0]-1)
      .attr("fill","none").attr("stroke","#000").attr("stroke-width",1.2);
    // x axis labels
    const xa = d3.axisBottom(x).tickValues(xTicks).tickSize(0).tickPadding(4).tickFormat(d3.format("d"));
    const gx = g.append("g").attr("transform",`translate(0,${r[1]})`).call(xa);
    gx.select(".domain").remove();
    gx.selectAll("text").style("font-size","11.5px").style("font-family","'DejaVu Serif',serif");
    // y axis labels
    const fmt = ri===3 ? d3.format(".1f") : d3.format("d");
    const ya = d3.axisLeft(y).tickValues(ticks).tickSize(0).tickPadding(4).tickFormat(fmt);
    const gy = g.append("g").attr("transform",`translate(${c.x0},0)`).call(ya);
    gy.select(".domain").remove();
    gy.selectAll("text").style("font-size","11.5px").style("font-family","'DejaVu Serif',serif");
    if(ci===0){
      svg.append("text").attr("transform",`translate(12,${(r[0]+r[1])/2}) rotate(-90)`)
        .attr("text-anchor","middle").style("font-size","12px").text(yLabels[ri]);
    }
  });
});
</script></body></html>
